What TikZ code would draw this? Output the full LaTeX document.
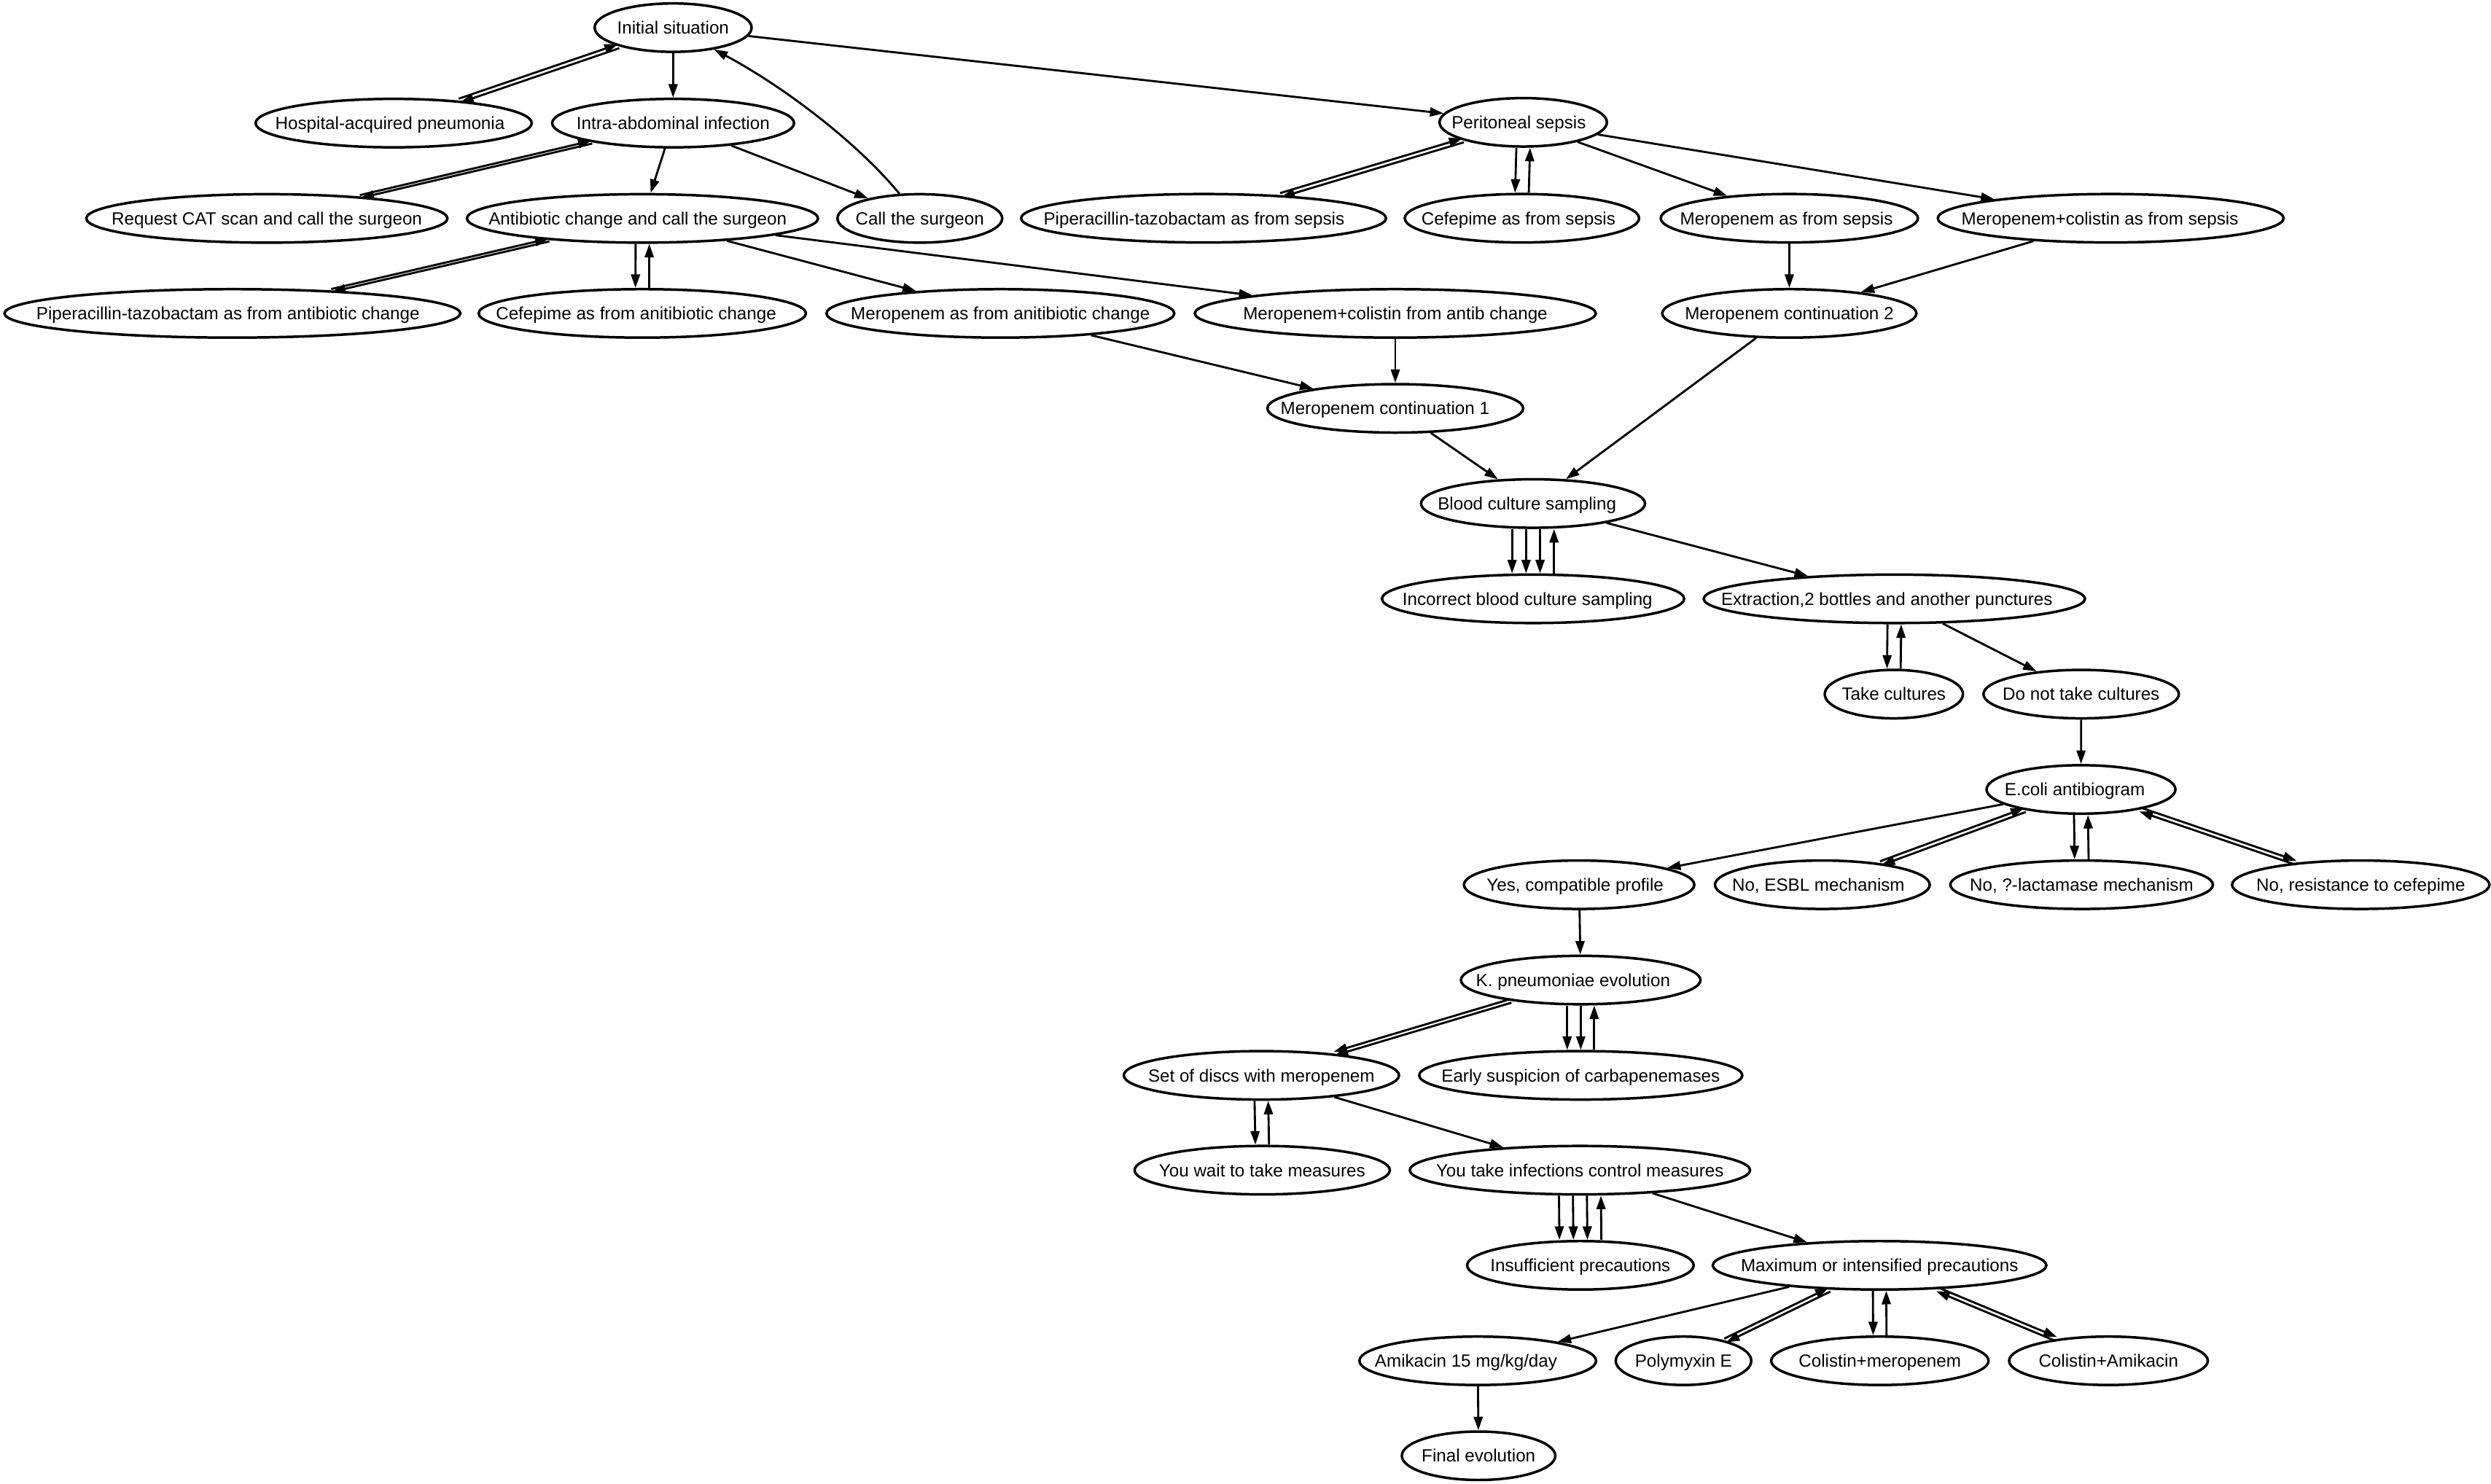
\documentclass[tikz,border=0pt]{standalone}
\usepackage{fontspec}
\setmainfont{Liberation Sans}
\usetikzlibrary{shapes.geometric,arrows.meta,calc}
\tikzset{
 ov/.style={ellipse, draw, line width=1.6pt, inner sep=0pt, minimum height=30.5pt, text height=7.95pt, text depth=0pt, font=\fontsize{11.1}{13}\selectfont},
 e/.style={line width=1.3pt, -{Triangle[length=8.5pt,width=5.6pt]}},
 ofs/.style={transform canvas={shift={#1}}}
}
\newcommand\nd[6]{\node[ov, minimum width=#4pt] (#1) at (#2,#3) {\makebox[0pt]{\hspace*{#5pt}#6}};}
\begin{document}
\begin{tikzpicture}[x=1pt,y=-1pt]
\useasboundingbox (0,0) rectangle (1568,934);
\fill[white] (0,0) rectangle (1568,934);
% nodes
\nd{init}{423.7}{17.4}{98.8}{0}{Initial situation}
\nd{hap}{247.8}{77.5}{173.8}{-4.6}{Hospital-acquired pneumonia}
\nd{iai}{423.7}{77.5}{152.3}{0}{Intra-abdominal infection}
\nd{ps}{958.8}{77}{105.4}{-5.6}{Peritoneal sepsis}
\nd{cat}{168}{137.5}{227.3}{0}{Request CAT scan and call the surgeon}
\nd{abc}{404.4}{137.5}{221}{-6}{Antibiotic change and call the surgeon}
\nd{cts}{579}{137.5}{103.7}{0}{Call the surgeon}
\nd{pips}{757.6}{137.4}{229.7}{-12}{Piperacillin-tazobactam as from sepsis}
\nd{cefs}{958}{137.4}{147.5}{-4.4}{Cefepime as from sepsis}
\nd{mers}{1126.3}{137.4}{161.9}{-3.6}{Meropenem as from sepsis}
\nd{mcs}{1328.6}{137.4}{217.7}{-13.6}{Meropenem+colistin as from sepsis}
\nd{pipa}{146.3}{197.3}{287}{-5.6}{Piperacillin-tazobactam as from antibiotic change}
\nd{cefa}{404.3}{197.3}{206}{-7.8}{Cefepime as from anitibiotic change}
\nd{mera}{629.7}{197.3}{218.9}{0}{Meropenem as from anitibiotic change}
\nd{mcab}{878.3}{197.3}{252.4}{0}{Meropenem+colistin from antib change}
\nd{mc2}{1126.3}{197.3}{160}{0}{Meropenem continuation 2}
\nd{mc1}{878.3}{257.1}{161}{-13}{Meropenem continuation 1}
\nd{bcs}{965}{317}{141}{-7.6}{Blood culture sampling}
\nd{ibc}{965}{377}{190.2}{-7}{Incorrect blood culture sampling}
\nd{ext}{1192.4}{377}{240}{-9.4}{Extraction,2 bottles and another punctures}
\nd{tc}{1192.1}{437}{87}{0}{Take cultures}
\nd{dntc}{1310}{437}{123}{0}{Do not take cultures}
\nd{eco}{1309.9}{497}{118.9}{-7.8}{E.coli antibiogram}
\nd{yes}{994}{557}{145}{-5}{Yes, compatible profile}
\nd{esbl}{1147.1}{557}{135.2}{-5}{No, ESBL mechanism}
\nd{bla}{1310.3}{557}{165.3}{0}{No, ?-lactamase mechanism}
\nd{res}{1486}{557}{162}{0}{No, resistance to cefepime}
\nd{kp}{995}{617}{150.8}{-9.6}{K. pneumoniae evolution}
\nd{set}{794}{677}{173.3}{0}{Set of discs with meropenem}
\nd{early}{995}{677}{203.4}{0}{Early suspicion of carbapenemases}
\nd{wait}{794.5}{736.7}{160.7}{0}{You wait to take measures}
\nd{take}{994.5}{736.7}{214.2}{0}{You take infections control measures}
\nd{insuf}{994.8}{796.6}{142.6}{0}{Insufficient precautions}
\nd{max}{1183.1}{796.6}{210}{0}{Maximum or intensified precautions}
\nd{amik}{930.2}{856.7}{149}{-14.8}{Amikacin 15 mg/kg/day}
\nd{poly}{1059.7}{856.7}{85.3}{0}{Polymyxin E}
\nd{colm}{1183.3}{856.7}{136.8}{0}{Colistin+meropenem}
\nd{cola}{1327.2}{856.7}{125.1}{0}{Colistin+Amikacin}
\nd{fin}{930.7}{916.5}{96.6}{0}{Final evolution}
% edges
\draw[e] (init) -- (iai);
\draw[e, ofs={(0.42pt,-1.23pt)}] (init) -- (hap);
\draw[e, ofs={(-0.42pt,1.23pt)}] (hap) -- (init);
\draw[e] (init) -- (ps);
\draw[e] (cts) .. controls (538.5,88.5) and (492,53.8) .. (init);
\draw[e] (iai) -- (abc);
\draw[e] (iai) -- (cts);
\draw[e, ofs={(0.207pt,-0.876pt)}] (iai) -- (cat);
\draw[e, ofs={(-0.207pt,0.876pt)}] (cat) -- (iai);
\draw[e, ofs={(0.203pt,-0.877pt)}] (abc) -- (pipa);
\draw[e, ofs={(-0.203pt,0.877pt)}] (pipa) -- (abc);
\draw[e] ([xshift=-4.3pt]abc.south) -- ([xshift=-4.3pt]cefa.north);
\draw[e] ([xshift=4.3pt]cefa.north) -- ([xshift=4.3pt]abc.south);
\draw[e] (abc) -- (mera);
\draw[e] (abc) -- (mcab);
\draw[e] (mera) -- (mc1);
\draw[e] (mcab) -- (mc1);
\draw[e] (mc1) -- (bcs);
\draw[e] (mc2) -- (bcs);
\draw[e, ofs={(0.373pt,-1.243pt)}] (ps) -- (pips);
\draw[e, ofs={(-0.373pt,1.243pt)}] (pips) -- (ps);
\draw[e] ([xshift=-4.3pt]ps.south) -- ([xshift=-4.3pt]cefs.north);
\draw[e] ([xshift=4.3pt]cefs.north) -- ([xshift=4.3pt]ps.south);
\draw[e] (ps) -- (mers);
\draw[e] (ps) -- (mcs);
\draw[e] (mers) -- (mc2);
\draw[e] (mcs) -- (mc2);
\draw[e] ([xshift=-13.2pt]bcs.south) -- ([xshift=-13.2pt]ibc.north);
\draw[e] ([xshift=-4.4pt]bcs.south) -- ([xshift=-4.4pt]ibc.north);
\draw[e] ([xshift=4.4pt]bcs.south) -- ([xshift=4.4pt]ibc.north);
\draw[e] ([xshift=13.2pt]ibc.north) -- ([xshift=13.2pt]bcs.south);
\draw[e] (bcs) -- (ext);
\draw[e] ([xshift=-4.3pt]ext.south) -- ([xshift=-4.3pt]tc.north);
\draw[e] ([xshift=4.3pt]tc.north) -- ([xshift=4.3pt]ext.south);
\draw[e] (ext) -- (dntc);
\draw[e] (dntc) -- (eco);
\draw[e] (eco) -- (yes);
\draw[e, ofs={(0.45pt,-1.22pt)}] (eco) -- (esbl);
\draw[e, ofs={(-0.45pt,1.22pt)}] (esbl) -- (eco);
\draw[e] ([xshift=-4.4pt]eco.south) -- ([xshift=-4.4pt]bla.north);
\draw[e] ([xshift=4.4pt]bla.north) -- ([xshift=4.4pt]eco.south);
\draw[e, ofs={(0.42pt,1.23pt)}] (eco) -- (res);
\draw[e, ofs={(-0.42pt,-1.23pt)}] (res) -- (eco);
\draw[e] (yes) -- (kp);
\draw[e, ofs={(0.338pt,-1.132pt)}] (kp) -- (set);
\draw[e, ofs={(-0.338pt,1.132pt)}] (kp) -- (set);
\draw[e] ([xshift=-8.5pt]kp.south) -- ([xshift=-8.5pt]early.north);
\draw[e] (kp.south) -- (early.north);
\draw[e] ([xshift=8.5pt]early.north) -- ([xshift=8.5pt]kp.south);
\draw[e] ([xshift=-4.3pt]set.south) -- ([xshift=-4.3pt]wait.north);
\draw[e] ([xshift=4.3pt]wait.north) -- ([xshift=4.3pt]set.south);
\draw[e] (set) -- (take);
\draw[e] ([xshift=-13.2pt]take.south) -- ([xshift=-13.2pt]insuf.north);
\draw[e] ([xshift=-4.4pt]take.south) -- ([xshift=-4.4pt]insuf.north);
\draw[e] ([xshift=4.4pt]take.south) -- ([xshift=4.4pt]insuf.north);
\draw[e] ([xshift=13.2pt]insuf.north) -- ([xshift=13.2pt]take.south);
\draw[e] (take) -- (max);
\draw[e] (max) -- (amik);
\draw[e, ofs={(0.571pt,-1.169pt)}] (max) -- (poly);
\draw[e, ofs={(-0.571pt,1.169pt)}] (poly) -- (max);
\draw[e] ([xshift=-4.2pt]max.south) -- ([xshift=-4.2pt]colm.north);
\draw[e] ([xshift=4.2pt]colm.north) -- ([xshift=4.2pt]max.south);
\draw[e, ofs={(0.502pt,1.2pt)}] (max) -- (cola);
\draw[e, ofs={(-0.502pt,-1.2pt)}] (cola) -- (max);
\draw[e] (amik) -- (fin);
\end{tikzpicture}
\end{document}
